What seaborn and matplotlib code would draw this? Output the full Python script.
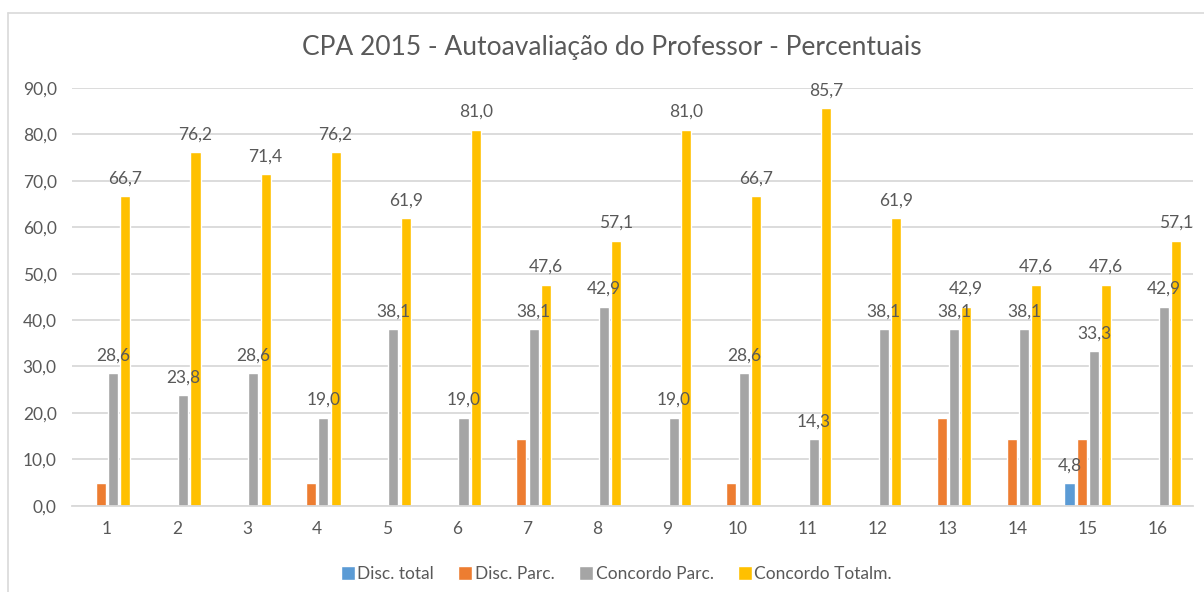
import matplotlib
matplotlib.use("Agg")
import matplotlib.pyplot as plt
import matplotlib.ticker as mticker
from matplotlib.lines import Line2D
import seaborn as sns
import pandas as pd

questions = [str(i) for i in range(1, 17)]
series = ["Disc. total", "Disc. Parc.", "Concordo Parc.", "Concordo Totalm."]
disc_total = [0, 0, 0, 0, 0, 0, 0, 0, 0, 0, 0, 0, 0, 0, 4.8, 0]
disc_parc = [4.8, 0, 0, 4.8, 0, 0, 14.3, 0, 0, 4.8, 0, 0, 19.0, 14.3, 14.3, 0]
conc_parc = [28.6, 23.8, 28.6, 19.0, 38.1, 19.0, 38.1, 42.9, 19.0, 28.6, 14.3, 38.1, 38.1, 38.1, 33.3, 42.9]
conc_total = [66.7, 76.2, 71.4, 76.2, 61.9, 81.0, 47.6, 57.1, 81.0, 66.7, 85.7, 61.9, 42.9, 47.6, 47.6, 57.1]
colors = ["#5B9BD5", "#ED7D31", "#A5A5A5", "#FFC000"]

rows = []
for name, vals in zip(series, [disc_total, disc_parc, conc_parc, conc_total]):
    for q, v in zip(questions, vals):
        rows.append({"Questao": q, "Serie": name, "Valor": v})
df = pd.DataFrame(rows)

sns.set_style("white")
plt.rcParams["font.family"] = ["Lato", "DejaVu Sans"]
txt = "#595959"
fs = 12.5

fig = plt.figure(figsize=(12.04, 5.92), dpi=100)
ax = fig.add_axes([72 / 1204, 1 - 505.7 / 592, (1193 - 72) / 1204, (505.7 - 88) / 592])

sns.barplot(data=df, x="Questao", y="Valor", hue="Serie", order=questions,
            hue_order=series, palette=colors, width=0.7, gap=0.18,
            saturation=1, errorbar=None, ax=ax, legend=True)

ax.set_ylim(0, 90)
ax.set_yticks(range(0, 91, 10))
ax.yaxis.set_major_formatter(mticker.FuncFormatter(lambda v, p: f"{v:.1f}".replace(".", ",")))
ax.grid(axis="y", color="#D9D9D9", linewidth=1.3)
ax.set_axisbelow(True)
for s in ["top", "right", "left"]:
    ax.spines[s].set_visible(False)
ax.spines["bottom"].set_color("#D9D9D9")
ax.spines["bottom"].set_linewidth(1.3)
ax.tick_params(axis="both", length=0, labelsize=fs, labelcolor=txt)
ax.tick_params(axis="y", pad=11)
ax.tick_params(axis="x", pad=11)
ax.set_xlabel("")
ax.set_ylabel("")

for cont, name in zip(ax.containers, series):
    vals = [b.get_height() for b in cont]
    if name == "Disc. Parc.":
        labels = ["" for v in vals]
    else:
        labels = ["" if v == 0 else f"{v:.1f}".replace(".", ",") for v in vals]
    ax.bar_label(cont, labels=labels, padding=7, fontsize=fs, color=txt)

handles, labs = ax.get_legend_handles_labels()
ax.legend_.remove()
fig.legend(handles, labs, loc="center", bbox_to_anchor=(0.512, 1 - 574 / 592),
           ncol=4, frameon=False, fontsize=fs, labelcolor=txt,
           handlelength=0.8, handleheight=0.8, handletextpad=0.15, columnspacing=1.4)

fig.text(612 / 1204, 1 - 47 / 592, "CPA 2015 - Autoavaliação do Professor - Percentuais",
         ha="center", va="center", fontsize=19, color=txt)

fig.add_artist(Line2D([8 / 1204, 8 / 1204], [0, 1 - 13 / 592], transform=fig.transFigure, color="#D9D9D9", linewidth=1.2))
fig.add_artist(Line2D([8 / 1204, 1], [1 - 13 / 592, 1 - 13 / 592], transform=fig.transFigure, color="#D9D9D9", linewidth=1.2))

fig.savefig("out.png", dpi=100)
